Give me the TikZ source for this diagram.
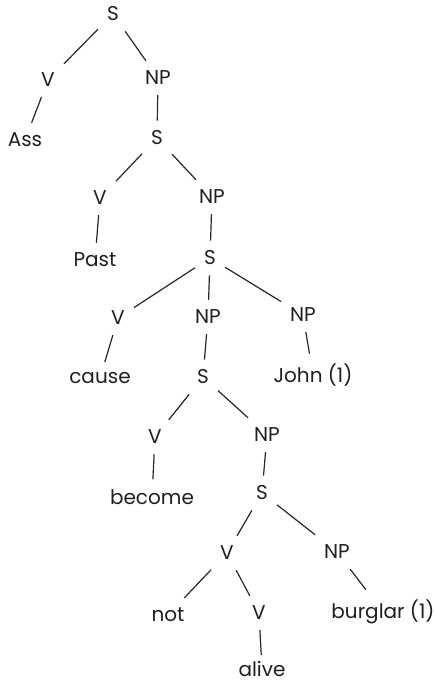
\documentclass[tikz,border=0pt]{standalone}
\usepackage{fontspec}
\setmainfont{Poppins}
\begin{document}
\begin{tikzpicture}[x=1pt,y=-1pt,
  lbl/.style={font=\fontsize{20}{23}\selectfont, text=black!88, inner xsep=9pt, inner ysep=10pt, anchor=center},
  branch/.style={line width=1.2pt, draw=black!85}]
\useasboundingbox (0,0) rectangle (434,685);
% nodes of the tree
\node[lbl] (s1) at (113,14) {S};
\node[lbl] (v1) at (48,80) {V};
\node[lbl] (np1) at (158,78) {NP};
\node[lbl] (ass) at (25,140) {Ass};
\node[lbl] (s2) at (157,138) {S};
\node[lbl] (v2) at (100,198) {V};
\node[lbl] (np2) at (212,197) {NP};
\node[lbl] (past) at (95,260) {Past};
\node[lbl] (s3) at (210,258) {S};
\node[lbl] (v3) at (118,318) {V};
\node[lbl] (np3) at (208,317) {NP};
\node[lbl] (np4) at (303,315) {NP};
\node[lbl] (cause) at (100,378) {cause};
\node[lbl] (s4) at (203,377) {S};
\node[lbl] (john) at (313,375) {John (1)};
\node[lbl] (v4) at (155,437) {V};
\node[lbl] (np5) at (267,435) {NP};
\node[lbl] (become) at (152,497) {become};
\node[lbl] (s5) at (262,493) {S};
\node[lbl] (v5) at (227,553) {V};
\node[lbl] (np6) at (337,552) {NP};
\node[lbl] (not) at (168,615) {not};
\node[lbl] (v6) at (259,613) {V};
\node[lbl] (burglar) at (383,612) {burglar (1)};
\node[lbl, inner ysep=1pt] (alive) at (262,669) {alive};
% branches
\draw[branch] (s1) -- (v1);
\draw[branch] (s1) -- (np1);
\draw[branch] (v1) -- (ass);
\draw[branch] (np1) -- (s2);
\draw[branch] (s2) -- (v2);
\draw[branch] (s2) -- (np2);
\draw[branch] (v2) -- (past);
\draw[branch] (np2) -- (s3);
\draw[branch] (s3) -- (v3);
\draw[branch] (s3) -- (np3);
\draw[branch] (s3) -- (np4);
\draw[branch] (v3) -- (cause);
\draw[branch] (np3) -- (s4);
\draw[branch] (np4) -- (john);
\draw[branch] (s4) -- (v4);
\draw[branch] (s4) -- (np5);
\draw[branch] (v4) -- (become);
\draw[branch] (np5) -- (s5);
\draw[branch] (s5) -- (v5);
\draw[branch] (s5) -- (np6);
\draw[branch] (v5) -- (not);
\draw[branch] (v5) -- (v6);
\draw[branch] (np6) -- (burglar);
\draw[branch, shorten >=5pt] (v6) -- (alive);
\end{tikzpicture}
\end{document}
